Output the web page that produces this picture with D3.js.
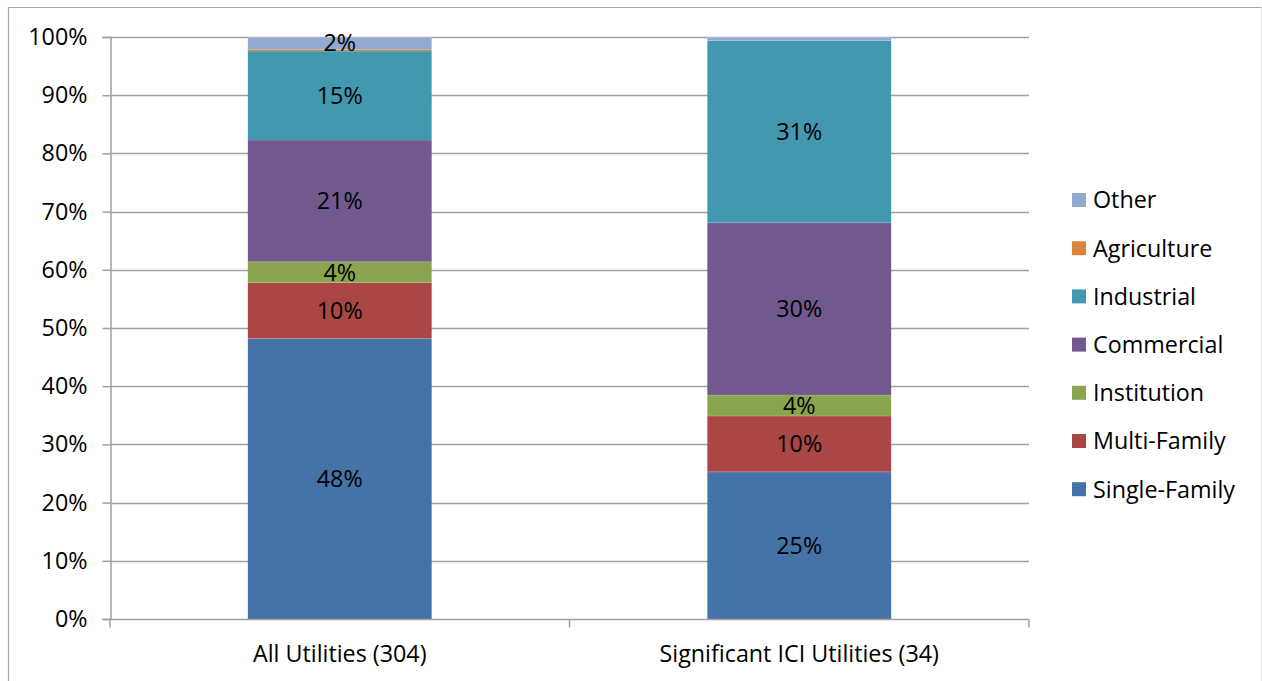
<!DOCTYPE html>
<html>
<head>
<meta charset="utf-8">
<script src="https://cdn.jsdelivr.net/npm/d3@7"></script>
<style>
  html, body { margin: 0; padding: 0; background: #fff; }
  svg { display: block; font-family: "Open Sans", "Noto Sans", sans-serif; }
</style>
</head>
<body>
<svg id="chart" width="1262" height="681"></svg>
<script>
// Customer-class mix of water use, as percent of total
const categories = ["All Utilities (304)", "Significant ICI Utilities (34)"];
const seriesNames = ["Single-Family", "Multi-Family", "Institution", "Commercial", "Industrial", "Agriculture", "Other"];
const singleFamily = [48.2, 25.3];
const multiFamily  = [9.6, 9.6];
const institution  = [3.6, 3.6];
const commercial   = [20.9, 29.6];
const industrial   = [15.3, 31.3];
const agriculture  = [0.3, 0.0];
const other        = [2.1, 0.6];
const yTicks = [0, 10, 20, 30, 40, 50, 60, 70, 80, 90, 100];
const colors = ["#4573a7", "#aa4644", "#89a54e", "#71588f", "#4298af", "#db843d", "#93a9cf"];

const FONT = 23.3;

const seriesValues = [singleFamily, multiFamily, institution, commercial, industrial, agriculture, other];
const rows = categories.map((c, i) => {
  const r = { category: c };
  seriesNames.forEach((s, k) => { r[s] = seriesValues[k][i]; });
  return r;
});
const stacked = d3.stack().keys(seriesNames)(rows);

const svg = d3.select("#chart");

// outer chart frame
svg.append("path")
  .attr("d", "M8.5,690 V7.5 H1261.5")
  .attr("fill", "none").attr("stroke", "#a6a6a6").attr("stroke-width", 1.2);
svg.append("line")
  .attr("x1", 1261.5).attr("x2", 1261.5).attr("y1", 7.5).attr("y2", 690)
  .attr("stroke", "#e6e6e6");

const plot = { left: 110, right: 1029, top: 37, bottom: 619 };

const x = d3.scaleBand().domain(categories).range([plot.left, plot.right]).paddingInner(0.6).paddingOuter(0.3);
const y = d3.scaleLinear().domain([0, 100]).range([plot.bottom, plot.top]);

// horizontal gridlines
svg.append("g")
  .selectAll("line")
  .data(yTicks.filter(t => t > 0))
  .join("line")
  .attr("x1", plot.left).attr("x2", plot.right)
  .attr("y1", d => Math.round(y(d)) + 0.5).attr("y2", d => Math.round(y(d)) + 0.5)
  .attr("stroke", "#a0a0a0").attr("stroke-width", 1.5);

// stacked bars
const layers = svg.append("g")
  .selectAll("g")
  .data(stacked)
  .join("g")
  .attr("fill", (d, i) => colors[i]);

layers.selectAll("rect")
  .data(d => d.map(p => ({ p, key: d.key })))
  .join("rect")
  .attr("x", d => x(d.p.data.category))
  .attr("width", x.bandwidth())
  .attr("y", d => y(d.p[1]))
  .attr("height", d => Math.max(0, y(d.p[0]) - y(d.p[1])));

// thin separators between stacked segments
layers.selectAll("line")
  .data(d => d.map(p => p).filter(p => p[1] - p[0] > 0))
  .join("line")
  .attr("x1", p => x(p.data.category)).attr("x2", p => x(p.data.category) + x.bandwidth())
  .attr("y1", p => y(p[1])).attr("y2", p => y(p[1]))
  .attr("stroke", "#ffffff").attr("stroke-opacity", 0.35).attr("stroke-width", 1);

// value labels
const fmt = d3.format(".0%");
svg.append("g")
  .selectAll("text")
  .data(stacked.flatMap(layer => layer.map(p => ({ p, v: p[1] - p[0] }))).filter(d => d.v >= 1))
  .join("text")
  .attr("x", d => x(d.p.data.category) + x.bandwidth() / 2)
  .attr("y", d => (y(d.p[0]) + y(d.p[1])) / 2)
  .attr("dy", "0.36em")
  .attr("text-anchor", "middle")
  .attr("font-size", FONT)
  .attr("fill", "#000")
  .text(d => fmt(d.v / 100));

// y axis
const yAxis = svg.append("g")
  .attr("transform", `translate(${plot.left + 0.5},0)`)
  .call(d3.axisLeft(y).tickValues(yTicks).tickFormat(d => d + "%").tickSize(8).tickPadding(15));
yAxis.select(".domain").attr("stroke", "#a0a0a0").attr("stroke-width", 1.5);
yAxis.selectAll(".tick line").attr("stroke", "#a0a0a0").attr("stroke-width", 1.5);
yAxis.selectAll(".tick text").attr("font-size", FONT).attr("fill", "#000")
  .attr("font-family", "\"Open Sans\", sans-serif");

// x axis
const xAxisG = svg.append("g").attr("transform", `translate(0,${plot.bottom + 0.5})`);
xAxisG.append("line")
  .attr("x1", plot.left).attr("x2", plot.right)
  .attr("stroke", "#a0a0a0").attr("stroke-width", 1.5);
const boundaries = [plot.left, (plot.left + plot.right) / 2, plot.right];
xAxisG.selectAll("line.tk")
  .data(boundaries)
  .join("line").attr("class", "tk")
  .attr("x1", d => d).attr("x2", d => d)
  .attr("y1", 0).attr("y2", 8)
  .attr("stroke", "#a0a0a0").attr("stroke-width", 1.5);
xAxisG.selectAll("text")
  .data(categories)
  .join("text")
  .attr("x", d => x(d) + x.bandwidth() / 2)
  .attr("y", 34)
  .attr("dy", "0.36em")
  .attr("text-anchor", "middle")
  .attr("font-size", FONT)
  .attr("fill", "#000")
  .text(d => d);

// legend, top entry is the top of the stack
const legendItems = seriesNames.slice().reverse();
const legend = svg.append("g").attr("transform", "translate(1072,200)");
const li = legend.selectAll("g")
  .data(legendItems)
  .join("g")
  .attr("transform", (d, i) => `translate(0,${i * 48.2})`);
li.append("rect")
  .attr("x", 0).attr("y", -7).attr("width", 14).attr("height", 14)
  .attr("fill", d => colors[seriesNames.indexOf(d)]);
li.append("text")
  .attr("x", 21).attr("y", 0).attr("dy", "0.36em")
  .attr("font-size", FONT).attr("fill", "#000")
  .text(d => d);
</script>
</body>
</html>
